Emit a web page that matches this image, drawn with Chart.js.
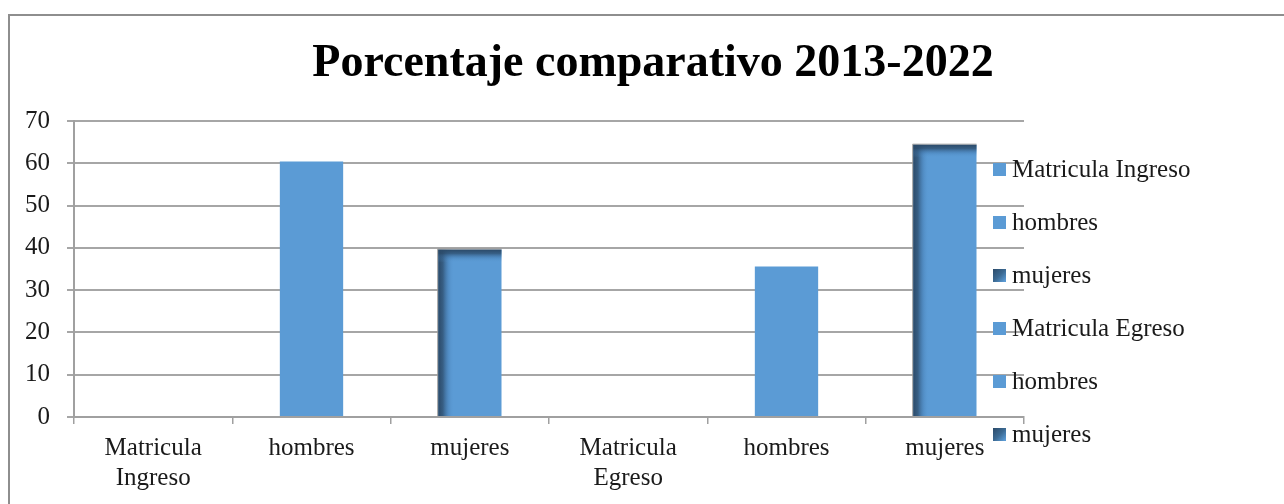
<!DOCTYPE html>
<html>
<head>
<meta charset="utf-8">
<script src="https://cdn.jsdelivr.net/npm/chart.js@4"></script>
<style>
    html, body { margin: 0; padding: 0; background: #fff; overflow: hidden; }
    #wrap { position: relative; width: 1284px; height: 504px; }
    #frame {
        position: absolute; left: 8px; top: 14px; width: 1400px; height: 600px;
        border-left: 2px solid #8e8e8e; border-top: 2px solid #8e8e8e;
    }
    #chart { position: absolute; left: 0; top: 0; }
</style>
</head>
<body>
<div id="wrap">
    <div id="frame"></div>
    <canvas id="chart" width="1284" height="504"></canvas>
</div>
<script>
document.addEventListener('DOMContentLoaded', function () {
    const title = 'Porcentaje comparativo 2013-2022';
    const categories = ['Matricula Ingreso', 'hombres', 'mujeres', 'Matricula Egreso', 'hombres', 'mujeres'];
    const values = [0, 60.4, 39.6, 0, 35.6, 64.4];
    // bars drawn with the darker bevel
    const shaded = [false, false, true, false, false, true];
    const yTicks = [0, 10, 20, 30, 40, 50, 60, 70];

    const serif = '"Liberation Serif", "DejaVu Serif", serif';
    const blue = '#5b9bd5';
    const dark = '#2b4a69';
    const textColor = '#1a1a1a';

    // title drawn by hand so it centres on the whole canvas
    const titlePlugin = {
        id: 'bigTitle',
        afterDraw(chart) {
            const c = chart.ctx;
            c.save();
            c.font = 'bold 46px ' + serif;
            c.fillStyle = '#000';
            c.textAlign = 'center';
            c.textBaseline = 'alphabetic';
            c.fillText(title, 653, 76);
            c.restore();
        }
    };

    function edgeGradient(c, x0, y0, x1, y1) {
        const g = c.createLinearGradient(x0, y0, x1, y1);
        g.addColorStop(0, dark);
        g.addColorStop(0.3, 'rgba(43,74,105,0.75)');
        g.addColorStop(0.65, 'rgba(60,110,160,0.3)');
        g.addColorStop(1, 'rgba(91,155,213,0)');
        return g;
    }

    // dark left and top edges on the mujeres bars
    const bevelPlugin = {
        id: 'bevel',
        afterDatasetsDraw(chart) {
            const c = chart.ctx;
            const meta = chart.getDatasetMeta(0);
            meta.data.forEach((bar, i) => {
                if (!shaded[i]) return;
                const left = bar.x - bar.width / 2;
                const top = bar.y;
                const h = bar.base - bar.y;
                c.save();
                c.fillStyle = edgeGradient(c, left, 0, left + 16, 0);
                c.fillRect(left, top, 16, h);
                c.fillStyle = edgeGradient(c, 0, top, 0, top + 13);
                c.fillRect(left, top, bar.width, 13);
                c.strokeStyle = 'rgba(150,150,150,0.9)';
                c.lineWidth = 1;
                c.beginPath();
                c.moveTo(left - 0.5, bar.base);
                c.lineTo(left - 0.5, top - 0.5);
                c.lineTo(left + bar.width, top - 0.5);
                c.stroke();
                c.restore();
            });
        }
    };

    // legend sitting over the right end of the plot
    const legendPlugin = {
        id: 'sideLegend',
        afterDraw(chart) {
            const c = chart.ctx;
            const area = chart.chartArea;
            const x0 = area.right - 31;
            const y0 = area.top + 48;
            const step = 53;
            c.save();
            c.font = '25px ' + serif;
            c.textBaseline = 'middle';
            c.textAlign = 'left';
            categories.forEach((label, i) => {
                const y = y0 + i * step;
                if (shaded[i]) {
                    const g = c.createLinearGradient(x0, y - 6, x0 + 12, y + 6);
                    g.addColorStop(0, dark);
                    g.addColorStop(0.55, '#3c6a93');
                    g.addColorStop(1, blue);
                    c.fillStyle = g;
                } else {
                    c.fillStyle = blue;
                }
                c.fillRect(x0, y - 6, 13, 13);
                c.fillStyle = textColor;
                c.fillText(label, x0 + 19, y + 1);
            });
            c.restore();
        }
    };

    new Chart(document.getElementById('chart').getContext('2d'), {
        type: 'bar',
        data: {
            labels: categories,
            datasets: [{
                data: values,
                backgroundColor: blue,
                borderWidth: 0,
                categoryPercentage: 1,
                barPercentage: 0.4
            }]
        },
        options: {
            responsive: false,
            animation: false,
            events: [],
            layout: { padding: { top: 121, right: 260, left: 0, bottom: 0 } },
            plugins: {
                legend: { display: false },
                title: { display: false },
                tooltip: { enabled: false }
            },
            scales: {
                x: {
                    offset: true,
                    afterFit: s => { s.height = 87; },
                    grid: {
                        offset: true,
                        drawOnChartArea: false,
                        drawTicks: true,
                        tickLength: 7,
                        color: '#a0a0a0',
                        lineWidth: 1.5
                    },
                    border: { color: '#a0a0a0', width: 2 },
                    ticks: {
                        maxRotation: 0,
                        autoSkip: false,
                        padding: 10,
                        color: textColor,
                        font: { family: serif, size: 25, lineHeight: 1.18 },
                        callback: function (value) {
                            return this.getLabelForValue(value).split(' ');
                        }
                    }
                },
                y: {
                    min: yTicks[0],
                    max: yTicks[yTicks.length - 1],
                    afterFit: s => { s.width = 74; },
                    afterBuildTicks: s => { s.ticks = yTicks.map(v => ({ value: v })); },
                    grid: {
                        color: '#a6a6a6',
                        lineWidth: 2,
                        tickLength: 7
                    },
                    border: { color: '#a0a0a0', width: 2 },
                    ticks: {
                        padding: 17,
                        color: textColor,
                        font: { family: serif, size: 25 }
                    }
                }
            }
        },
        plugins: [bevelPlugin, legendPlugin, titlePlugin]
    });
});
</script>
</body>
</html>
